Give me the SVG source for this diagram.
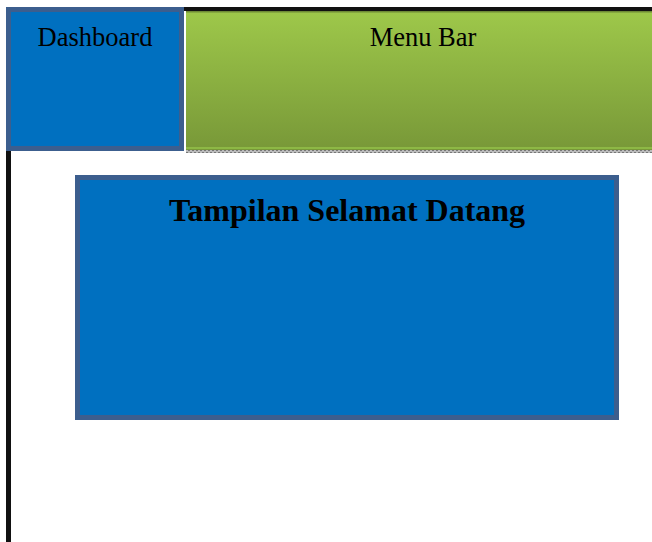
<svg xmlns="http://www.w3.org/2000/svg" width="652" height="542" viewBox="0 0 652 542">
<defs>
<linearGradient id="g" x1="0" y1="0" x2="0" y2="1">
<stop offset="0" stop-color="#9EC84A"/>
<stop offset="1" stop-color="#789838"/>
</linearGradient>
<pattern id="dots" width="4" height="3" patternUnits="userSpaceOnUse">
<rect width="4" height="3" fill="#BBBBBB"/>
<rect x="0" y="0" width="2" height="1" fill="#777"/>
<rect x="2" y="2" width="2" height="1" fill="#777"/>
</pattern>
<style>
.box{fill:#0070C0;stroke:#3C5E8E;stroke-width:5}
.t{font-family:"Liberation Serif",serif;fill:#000;text-anchor:middle}
</style>
</defs>
<rect width="652" height="542" fill="#fff"/>
<g id="frame">
<rect x="6" y="150" width="5" height="392" fill="#111"/>
<rect x="183" y="7" width="469" height="4" fill="#111"/>
</g>
<g id="menubar">
<rect x="186" y="150" width="466" height="3" fill="url(#dots)"/>
<rect x="186" y="11" width="466" height="139" fill="url(#g)"/>
<rect x="186" y="11" width="466" height="1.5" fill="#6E8A36"/>
<rect x="186" y="147" width="466" height="2" fill="#8DB845"/>
<text class="t" x="423" y="46" font-size="26.5">Menu Bar</text>
</g>
<g id="dashboard">
<rect class="box" x="8.5" y="9.5" width="173" height="139"/>
<text class="t" x="95" y="46" font-size="26.5">Dashboard</text>
</g>
<g id="welcome">
<rect class="box" x="77.5" y="177.5" width="539" height="240"/>
<text class="t" x="347" y="221" font-size="32" font-weight="bold">Tampilan Selamat Datang</text>
</g>
</svg>
